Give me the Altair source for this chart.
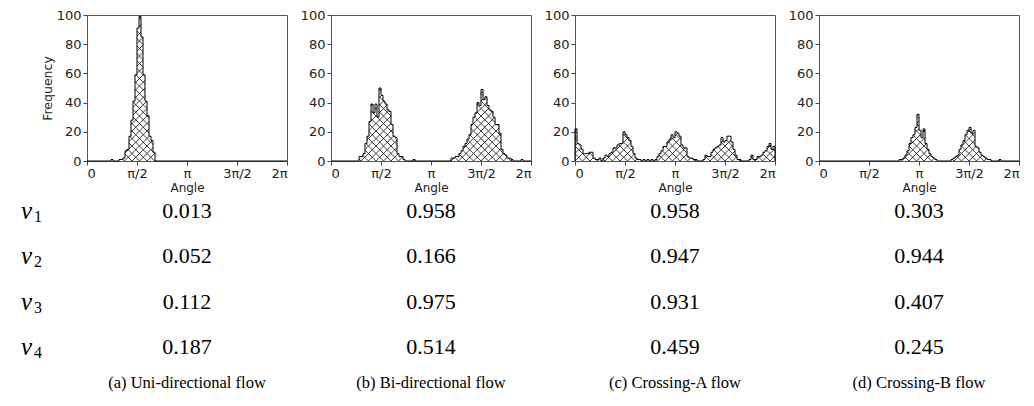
import math
import altair as alt
import pandas as pd

# ---------------- data ----------------
N_BINS = 100                      # equal bins over [0, 2π]
TWO_PI = 2 * math.pi

# histogram counts as (first bin index, consecutive bin counts)
UNI_SEGMENTS = [(12, [1, 0, 0, 0, 1, 1, 2, 7, 8, 17, 28, 41, 59, 91, 99, 85, 59, 41, 31, 17, 14, 6])]
BI_SEGMENTS = [
    (14, [3, 3, 5, 12, 17, 27, 39, 33, 39, 30, 50, 45, 41, 39, 35, 34, 25, 17, 16, 5, 3, 3, 1]),
    (41, [1]),
    (60, [2, 2, 3, 3, 5, 7, 10, 12, 15, 18, 25, 30, 33, 40, 38, 49, 42, 44, 38, 35, 34, 30, 25, 25,
          19, 8, 5, 4, 2, 2, 1]),
    (95, [1]),
]
CROSS_A_SEGMENTS = [(0, [
    22, 12, 11, 8, 5, 5, 5, 6, 6, 2,
    1, 1, 2, 0, 2, 4, 3, 5, 6, 9,
    9, 11, 12, 12, 20, 18, 16, 14, 10, 5,
    2, 1, 1, 0, 1, 0, 1, 0, 1, 0,
    1, 3, 5, 7, 10, 10, 13, 15, 18, 16,
    20, 19, 17, 11, 9, 9, 3, 2, 2, 1,
    1, 0, 0, 0, 1, 4, 3, 3, 6, 8,
    9, 10, 11, 16, 13, 14, 17, 17, 13, 8,
    4, 1, 1, 0, 0, 0, 0, 1, 4, 1,
    1, 3, 3, 4, 6, 7, 10, 12, 8, 10])]
CROSS_B_SEGMENTS = [
    (40, [1, 1, 2, 4, 7, 12, 16, 18, 23, 32, 21, 16, 22, 12, 8, 5, 3, 2, 1]),
    (66, [1, 2, 3, 4, 8, 11, 14, 18, 21, 23, 19, 21, 10, 9, 6, 4, 3, 2, 1, 1]),
    (90, [1]),
]

TICK_VALUES = [0, math.pi / 2, math.pi, 3 * math.pi / 2, TWO_PI]
TICK_LABELS = ["0", "π/2", "π", "3π/2", "2π"]
Y_TICKS = [0, 20, 40, 60, 80, 100]

NU_NAMES = ["1", "2", "3", "4"]
UNI_NU = [0.013, 0.052, 0.112, 0.187]
BI_NU = [0.958, 0.166, 0.975, 0.514]
CROSS_A_NU = [0.958, 0.947, 0.931, 0.459]
CROSS_B_NU = [0.303, 0.944, 0.407, 0.245]
CAPTIONS = ["(a) Uni-directional flow", "(b) Bi-directional flow",
            "(c) Crossing-A flow", "(d) Crossing-B flow"]

# ---------------- layout / style ----------------
W, H = 200, 146
GAP = 44
HATCH_STEP = 7.5
AXIS_FONT = "DejaVu Sans"
SERIF = "Liberation Serif"
ROWS = [0, 1, 2, 3]
CAPTION_ROW = 3.8
NU_COL = -1.66


def counts_from(segments):
    c = [0] * N_BINS
    for start, vals in segments:
        for k, v in enumerate(vals):
            c[start + k] = v
    return c


def hatch_frame(counts):
    """Cross-hatch line pieces clipped to each histogram bar (drawn in data units)."""
    bw = W / N_BINS
    P = HATCH_STEP
    lines = {}
    for i, c in enumerate(counts):
        if c <= 0:
            continue
        x0, x1, h = i * bw, (i + 1) * bw, c / 100 * H
        for k in range(math.floor((x0 - h) / P) - 1, math.ceil(x1 / P) + 2):
            c0 = k * P
            a, b = max(x0, c0), min(x1, c0 + h)
            if b - a > 1e-9:
                lines.setdefault((1, k), []).append([a, a - c0, b, b - c0])
        for k in range(math.floor(x0 / P) - 1, math.ceil((x1 + h) / P) + 2):
            c0 = k * P
            a, b = max(x0, c0 - h), min(x1, c0)
            if b - a > 1e-9:
                lines.setdefault((2, k), []).append([a, c0 - a, b, c0 - b])
    rows = []
    for segs in lines.values():
        segs.sort()
        merged = [segs[0]]
        for s in segs[1:]:
            m = merged[-1]
            if abs(s[0] - m[2]) < 1e-6 and abs(s[1] - m[3]) < 1e-6:
                m[2], m[3] = s[2], s[3]
            else:
                merged.append(s)
        for m in merged:
            rows.append({"a0": m[0] / W * TWO_PI, "c0": m[1] / H * 100,
                         "a1": m[2] / W * TWO_PI, "c1": m[3] / H * 100})
    return pd.DataFrame(rows)


def outline_frame(counts):
    pts = [(0.0, 0)] + [(i * TWO_PI / N_BINS, c) for i, c in enumerate(counts)] + [(TWO_PI, 0)]
    return pd.DataFrame({"a": [p[0] for p in pts], "c": [p[1] for p in pts],
                         "i": list(range(len(pts)))})


label_expr = "[" + ",".join("'%s'" % t for t in TICK_LABELS) + "][round(datum.value / (PI / 2))]"

xs = alt.Scale(domain=[0, TWO_PI], nice=False, zero=False)
ys = alt.Scale(domain=[0, 100], nice=False, zero=True)
txs = alt.Scale(domain=[-1, 1], range=[0, W])
tys = alt.Scale(domain=[0, 3], range=[196, 332])


def panel(segments, nu_values, caption, first):
    counts = counts_from(segments)
    hatch = alt.Chart(hatch_frame(counts)).mark_rule(color="#111", strokeWidth=0.8).encode(
        x=alt.X("a0:Q", scale=xs, axis=None),
        y=alt.Y("c0:Q", scale=ys, axis=None),
        x2="a1:Q", y2="c1:Q")
    yaxis = alt.Axis(values=Y_TICKS, tickSize=4, labelPadding=2, titlePadding=2,
                     titleFontSize=12.5, titleFontWeight="normal", titleFont=AXIS_FONT)
    outline = alt.Chart(outline_frame(counts)).mark_line(
        interpolate="step-after", color="black", strokeWidth=1).encode(
        x=alt.X("a:Q", scale=xs, title="Angle",
                axis=alt.Axis(values=TICK_VALUES, labelExpr=label_expr, tickSize=4,
                              labelPadding=2, titlePadding=2, titleFontSize=12,
                              titleFontWeight="normal", titleFont=AXIS_FONT)),
        y=alt.Y("c:Q", scale=ys, title="Frequency" if first else None, axis=yaxis),
        order="i:Q")
    num_df = pd.DataFrame({"col": [0] * 4, "row": ROWS, "txt": ["%.3f" % v for v in nu_values]})
    nums = alt.Chart(num_df).mark_text(font=SERIF, fontSize=22, color="black",
                                       baseline="middle").encode(
        x=alt.X("col:Q", scale=txs, axis=None),
        y=alt.Y("row:Q", scale=tys, axis=None), text="txt:N")
    cap_df = pd.DataFrame({"col": [0], "row": [CAPTION_ROW], "txt": [caption]})
    cap = alt.Chart(cap_df).mark_text(font=SERIF, fontSize=16.5, color="black",
                                      baseline="middle").encode(
        x=alt.X("col:Q", scale=txs, axis=None),
        y=alt.Y("row:Q", scale=tys, axis=None), text="txt:N")
    layers = [hatch, outline, nums, cap]
    if first:
        nu_df = pd.DataFrame({"col": [NU_COL] * 4, "row": ROWS, "txt": ["ν"] * 4, "sub": NU_NAMES})
        nu = alt.Chart(nu_df).mark_text(font=SERIF, fontSize=25, fontStyle="italic", color="black",
                                        align="left", baseline="middle").encode(
            x=alt.X("col:Q", scale=txs, axis=None),
            y=alt.Y("row:Q", scale=tys, axis=None), text="txt:N")
        sub = alt.Chart(nu_df).mark_text(font=SERIF, fontSize=16, color="black", align="left",
                                         baseline="middle", dx=13, dy=6).encode(
            x=alt.X("col:Q", scale=txs, axis=None),
            y=alt.Y("row:Q", scale=tys, axis=None), text="sub:N")
        layers += [nu, sub]
    return alt.layer(*layers).resolve_scale(x="independent", y="independent").properties(
        width=W, height=H)


chart = alt.hconcat(
    panel(UNI_SEGMENTS, UNI_NU, CAPTIONS[0], True),
    panel(BI_SEGMENTS, BI_NU, CAPTIONS[1], False),
    panel(CROSS_A_SEGMENTS, CROSS_A_NU, CAPTIONS[2], False),
    panel(CROSS_B_SEGMENTS, CROSS_B_NU, CAPTIONS[3], False),
    spacing=GAP, bounds="flush",
).properties(
    padding={"left": 12, "top": 0, "right": 0, "bottom": 0}
).configure_view(
    stroke="#555", strokeWidth=1
).configure_axis(
    labelFont=AXIS_FONT, labelFontSize=13, labelColor="#222", tickColor="#444",
    titleColor="#222", domain=False, grid=False
)

chart.save("out.html", embed_options={"renderer": "svg", "actions": False})
